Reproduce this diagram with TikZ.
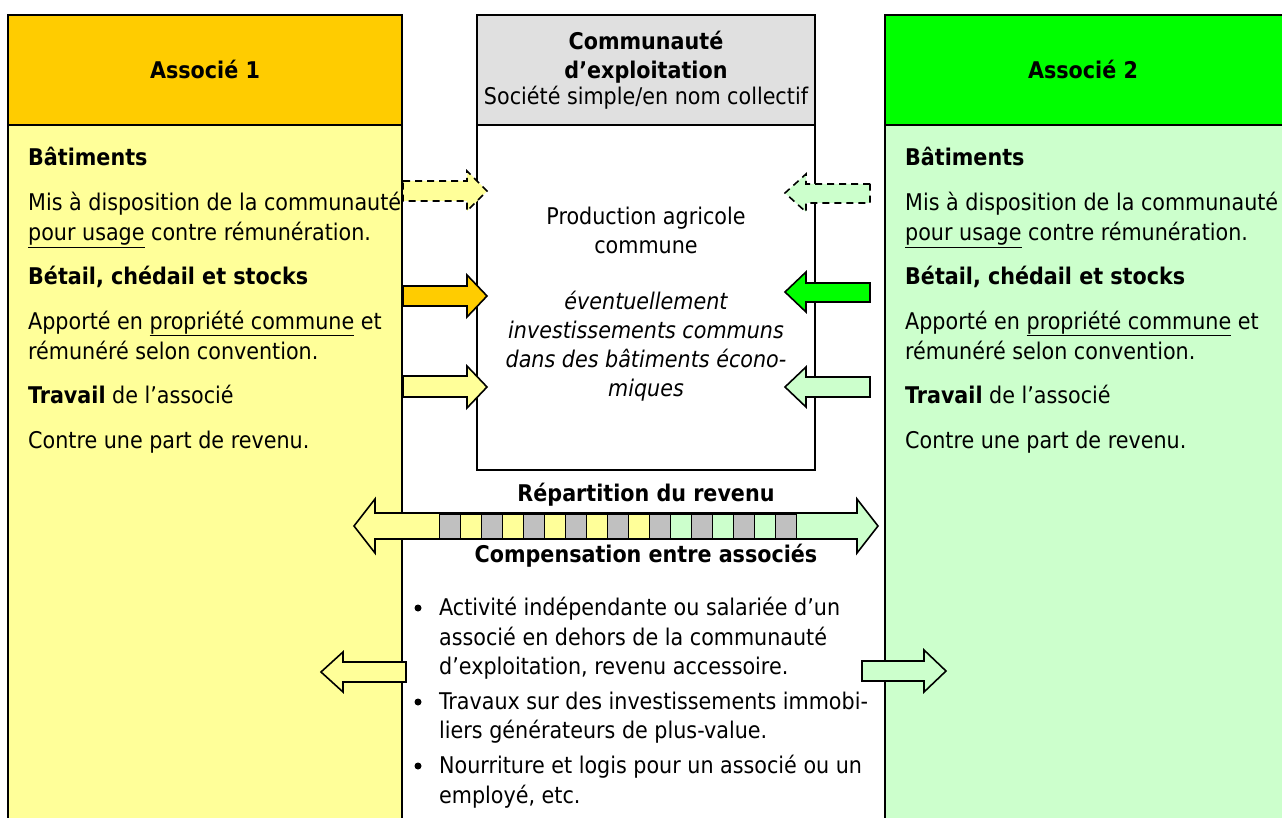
\documentclass[tikz,border=0pt]{standalone}
\usepackage{fontspec}
\setmainfont{DejaVu Sans Condensed}
\definecolor{orangeH}{HTML}{FFCC00}
\definecolor{yellowL}{HTML}{FFFF99}
\definecolor{greenH}{HTML}{00FF00}
\definecolor{greenL}{HTML}{CCFFCC}
\definecolor{greyH}{HTML}{E0E0E0}
\definecolor{greyC}{HTML}{C0C0C0}
\newcommand{\fs}{\fontsize{23}{28}\selectfont}
\newcommand{\ul}[1]{\underline{#1}}
\tikzset{
  txt/.style={anchor=base west, inner sep=0pt, font=\fs},
  btxt/.style={anchor=base west, inner sep=0pt, font=\fs\bfseries},
  ctxt/.style={anchor=base, inner sep=0pt, font=\fs},
  cbtxt/.style={anchor=base, inner sep=0pt, font=\fs\bfseries},
  citxt/.style={anchor=base, inner sep=0pt, font=\fs\itshape},
  frame/.style={line width=2pt},
  blockarrow/.style={line width=1.6pt, line join=miter},
  dasharrow/.style={line width=1.6pt, dash pattern=on 7pt off 5pt},
}
\begin{document}
\begin{tikzpicture}[x=1pt,y=-1pt]
\useasboundingbox (0,0) rectangle (1282,818);
\begin{scope}
\clip (0,0) rectangle (1282,818);
% left column
\fill[yellowL] (8,125) rectangle (402,830);
\fill[orangeH] (8,15) rectangle (402,125);
\draw[frame] (8,830) -- (8,15) -- (402,15) -- (402,830);
\draw[frame] (8,125) -- (402,125);
% right column
\fill[greenL] (885,125) rectangle (1295,830);
\fill[greenH] (885,15) rectangle (1295,125);
\draw[frame] (885,830) -- (885,15) -- (1295,15);
\draw[frame] (885,125) -- (1295,125);
\end{scope}
% center box
\fill[greyH] (477,15) rectangle (815,125);
\fill[white] (477,125) rectangle (815,470);
\draw[frame] (477,15) rectangle (815,470);
\draw[frame] (477,125) -- (815,125);

% headers
\node[cbtxt] (h1) at (205,79) {Associé 1};
\node[cbtxt] (h2) at (1083,79) {Associé 2};
\node[cbtxt] (hc1) at (646,50) {Communauté};
\node[cbtxt] (hc2) at (646,79) {d’exploitation};
\node[ctxt] (hc3) at (646,105) {Société simple/en nom collectif};

% arrows left -> center
\draw[dasharrow, fill=yellowL] (403,181) -- (467,181) -- (467,171) -- (487,191) -- (467,211) -- (467,201) -- (403,201) -- cycle;
\draw[blockarrow, fill=orangeH] (403,286) -- (467,286) -- (467,275) -- (487,296) -- (467,317) -- (467,306) -- (403,306) -- cycle;
\draw[blockarrow, fill=yellowL] (403,376) -- (467,376) -- (467,366) -- (487,387) -- (467,408) -- (467,397) -- (403,397) -- cycle;
% arrows right -> center
\draw[dasharrow, fill=greenL] (870,184) -- (806,184) -- (806,174) -- (785,193) -- (806,212) -- (806,203) -- (870,203) -- cycle;
\draw[blockarrow, fill=greenH] (870,283) -- (806,283) -- (806,272) -- (785,292) -- (806,312) -- (806,302) -- (870,302) -- cycle;
\draw[blockarrow, fill=greenL] (870,377) -- (806,377) -- (806,367) -- (785,387) -- (806,407) -- (806,397) -- (870,397) -- cycle;

% left column text
\node[btxt] (b1) at (28,166) {Bâtiments};
\node[txt] (b1a) at (28,211) {Mis à disposition de la communauté};
\node[txt] (b1b) at (28,241) {\ul{pour usage} contre rémunération.};
\node[btxt] (b2) at (28,285) {Bétail, chédail et stocks};
\node[txt] (b2a) at (28,329) {Apporté en \ul{propriété commune} et};
\node[txt] (b2b) at (28,359) {rémunéré selon convention.};
\node[txt] (b3) at (28,403) {\textbf{Travail} de l’associé};
\node[txt] (b3a) at (28,448) {Contre une part de revenu.};
% right column text
\node[btxt] (r1) at (905,166) {Bâtiments};
\node[txt] (r1a) at (905,211) {Mis à disposition de la communauté};
\node[txt] (r1b) at (905,241) {\ul{pour usage} contre rémunération.};
\node[btxt] (r2) at (905,285) {Bétail, chédail et stocks};
\node[txt] (r2a) at (905,329) {Apporté en \ul{propriété commune} et};
\node[txt] (r2b) at (905,359) {rémunéré selon convention.};
\node[txt] (r3) at (905,403) {\textbf{Travail} de l’associé};
\node[txt] (r3a) at (905,448) {Contre une part de revenu.};

% center text
\node[ctxt] (c1) at (646,225) {Production agricole};
\node[ctxt] (c2) at (646,254) {commune};
\node[citxt] (c3) at (646,309) {éventuellement};
\node[citxt] (c4) at (646,338) {investissements communs};
\node[citxt] (c5) at (646,367) {dans des bâtiments écono-};
\node[citxt] (c6) at (646,396) {miques};

% income distribution arrow
\node[cbtxt] (rep) at (646,501) {Répartition du revenu};
\draw[blockarrow, fill=yellowL] (616,513) -- (375,513) -- (375,499) -- (354,526) -- (375,553) -- (375,539) -- (616,539) -- cycle;
\draw[blockarrow, fill=greenL] (616,513) -- (857,513) -- (857,499) -- (878,526) -- (857,553) -- (857,539) -- (616,539) -- cycle;
\foreach \i in {0,...,16}{
  \pgfmathsetmacro{\xa}{439+21*\i}
  \ifodd\i
    \ifnum\i<11 \def\cc{yellowL}\else\def\cc{greenL}\fi
  \else
    \def\cc{greyC}
  \fi
  \draw[line width=0.8pt, fill=\cc] (\xa,514) rectangle ++(21,24);
}
\node[cbtxt] (comp) at (646,562) {Compensation entre associés};

% compensation arrows
\draw[blockarrow, fill=yellowL] (406,662) -- (343,662) -- (343,652) -- (321,672) -- (343,692) -- (343,682) -- (406,682) -- cycle;
\draw[blockarrow, fill=greenL] (862,661) -- (924,661) -- (924,650) -- (946,671) -- (924,692) -- (924,681) -- (862,681) -- cycle;

% bullets
\foreach \y/\t [count=\k] in {615/Activité indépendante ou salariée d’un, 645/associé en dehors de la communauté, 674/{d’exploitation, revenu accessoire.}, 709/Travaux sur des investissements immobi-, 738/liers générateurs de plus-value., 773/Nourriture et logis pour un associé ou un, 803/{employé, etc.}}
  \node[txt] (bl\k) at (439,\y) {\t};
\foreach \y/\k in {615/1,709/2,773/3}
  \fill (418,\y-7) circle (3.5pt) coordinate (dot\k);
\end{tikzpicture}
\end{document}
